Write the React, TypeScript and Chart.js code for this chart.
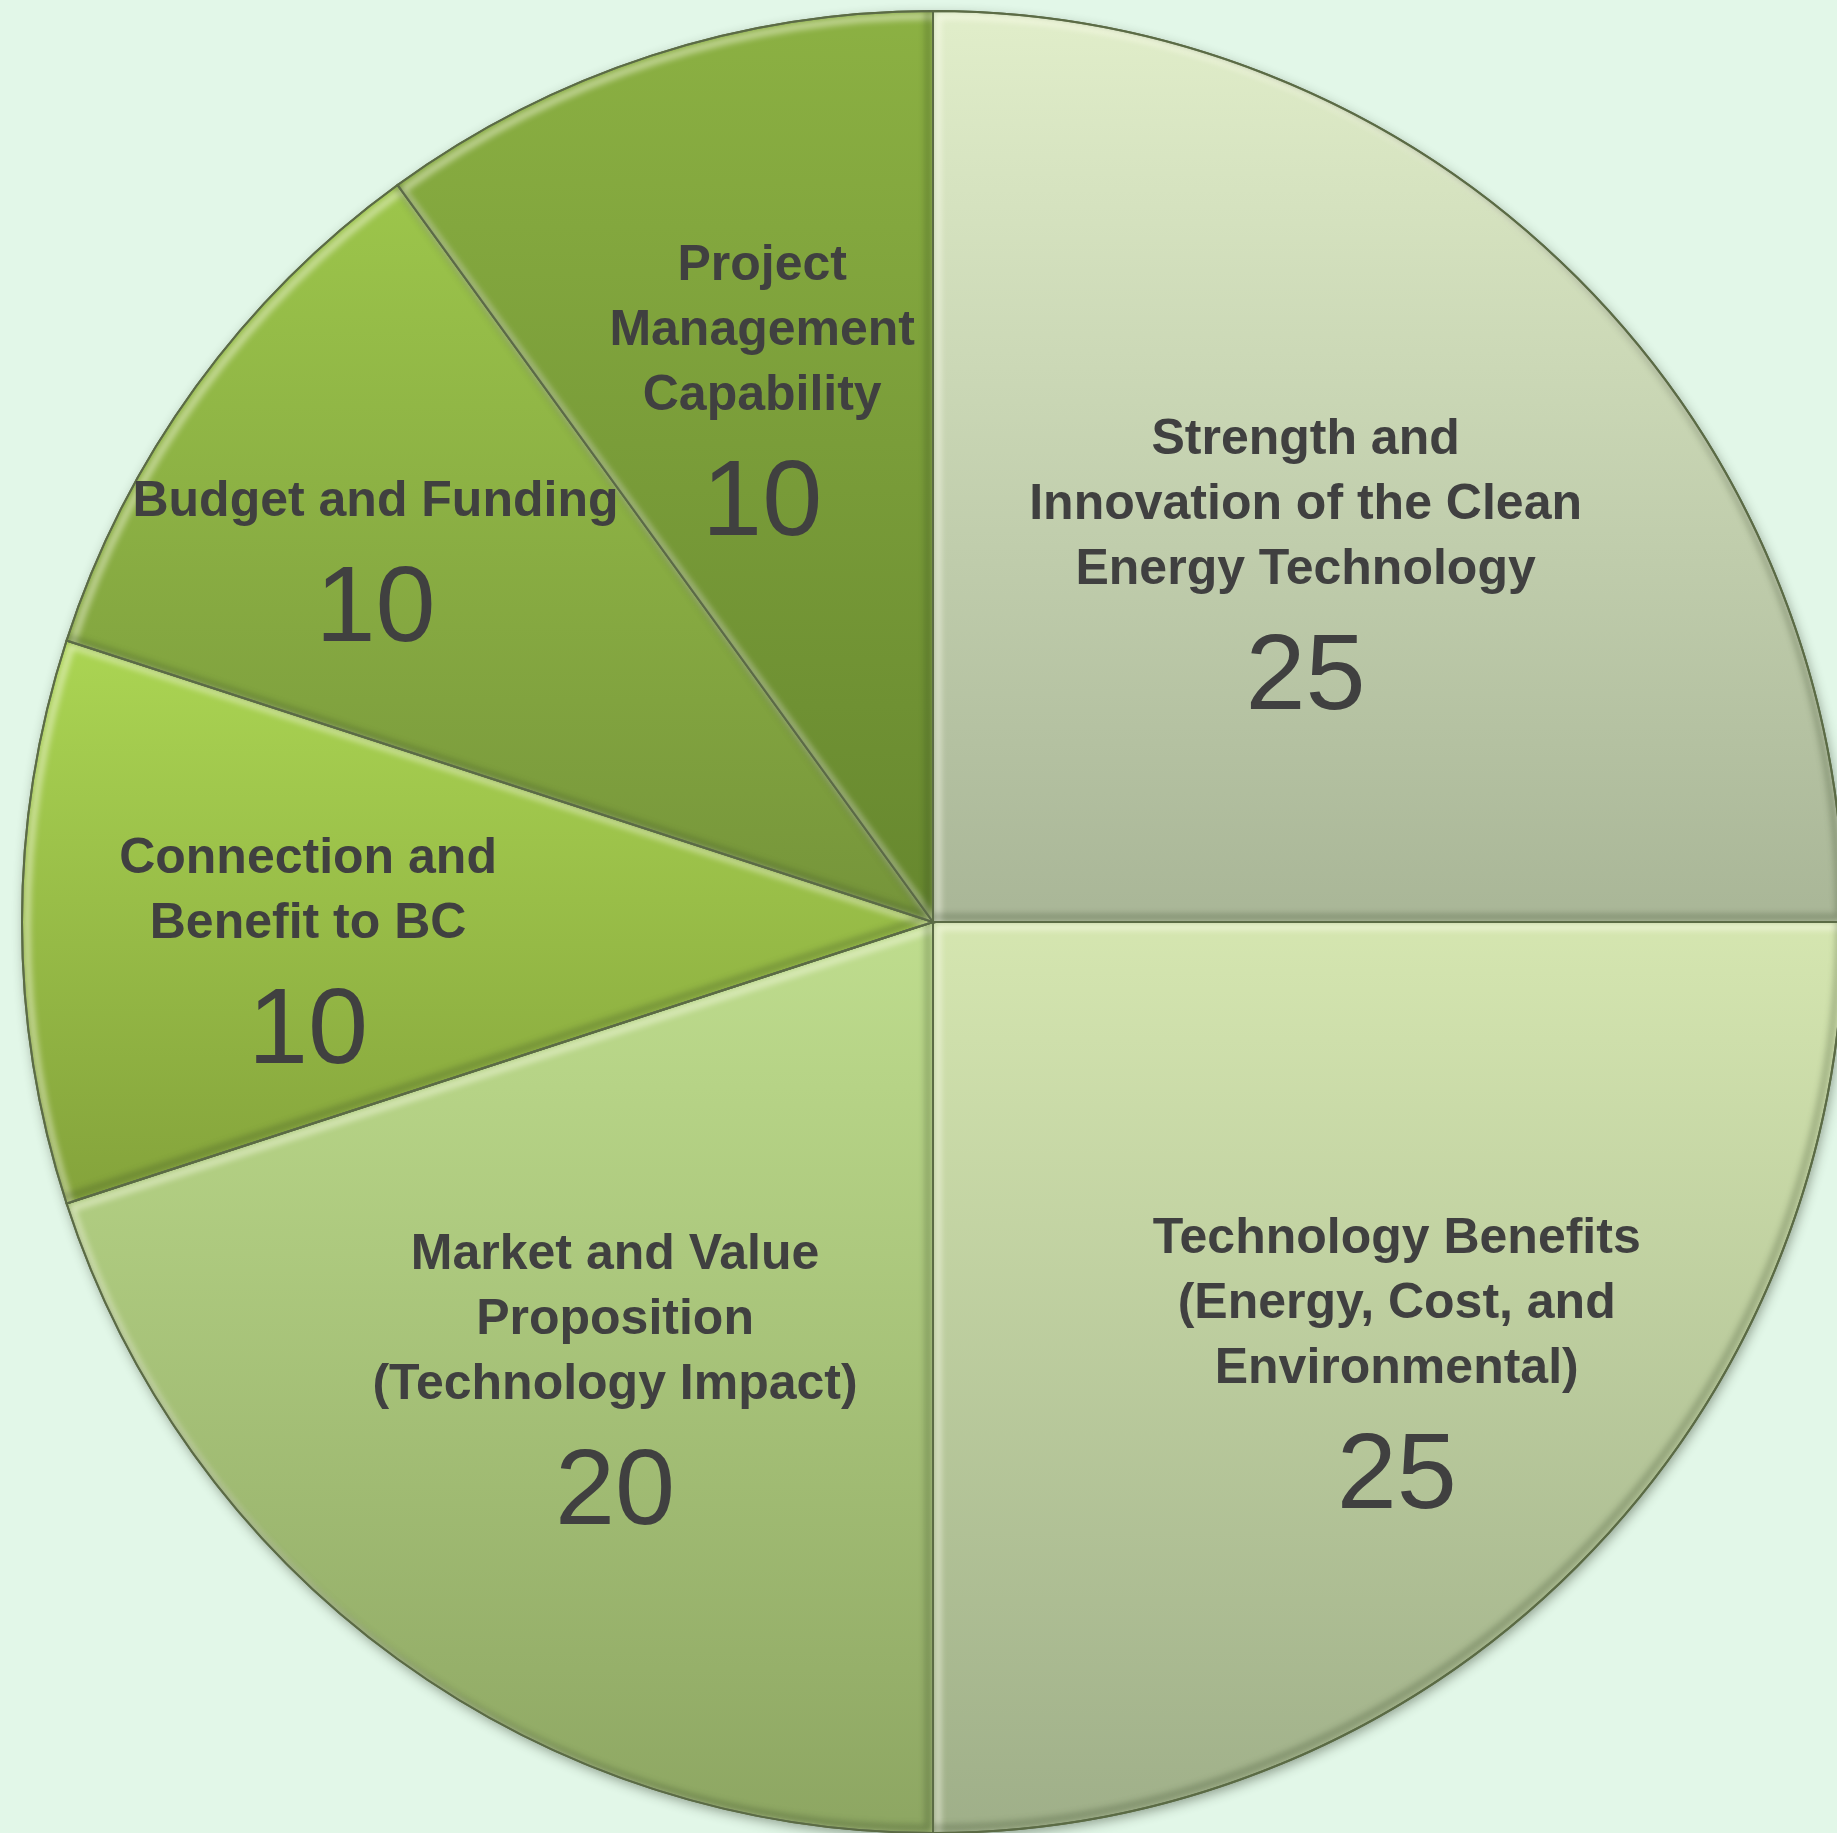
import React, { useEffect, useRef } from 'react';
import { Chart, registerables } from 'chart.js';

Chart.register(...registerables);

// ---- Data ----
const categories: string[][] = [
  ['Strength and', 'Innovation of the Clean', 'Energy Technology'],
  ['Technology Benefits', '(Energy, Cost, and', 'Environmental)'],
  ['Market and Value', 'Proposition', '(Technology Impact)'],
  ['Connection and', 'Benefit to BC'],
  ['Budget and Funding'],
  ['Project', 'Management', 'Capability'],
];
const scores: number[] = [25, 25, 20, 10, 10, 10];

// ---- Styles ----
const gradientTop = ['#E1EECA', '#D5E6B0', '#BFDD8E', '#ABD553', '#9DC64B', '#8CB143'];
const gradientBottom = ['#A9B697', '#9FAF89', '#8DA662', '#84A33B', '#75943A', '#66872E'];
// label anchor (centre of first text line) as fraction of radius from pie centre
const labelAnchors: number[][] = [
  [0.409, -0.533],
  [0.509, 0.344],
  [-0.349, 0.361],
  [-0.686, -0.073],
  [-0.612, -0.465],
  [-0.1875, -0.725],
];
const BG = '#E2F7E8';
const TEXT = '#404040';
const LABEL_FONT = 'bold 50px "Liberation Sans", Arial, sans-serif';
const VALUE_FONT = '108px "Liberation Sans", Arial, sans-serif';
const LINE_H = 65;
const VALUE_GAP = 104;

const CANVAS_W = 1866;
const CANVAS_H = 1844;

function sliceYRange(cy: number, r: number, a0: number, a1: number) {
  let minY = cy, maxY = cy;
  const steps = 60;
  for (let i = 0; i <= steps; i++) {
    const a = a0 + ((a1 - a0) * i) / steps;
    const y = cy + Math.sin(a) * r;
    if (y < minY) minY = y;
    if (y > maxY) maxY = y;
  }
  return [minY, maxY];
}

function arcPath(ctx: CanvasRenderingContext2D, x: number, y: number, r: number, a0: number, a1: number) {
  ctx.beginPath();
  ctx.moveTo(x, y);
  ctx.arc(x, y, r, a0, a1);
  ctx.closePath();
}

const shadowPlugin = {
  id: 'pieShadow',
  beforeDatasetsDraw(chart: any) {
    const meta = chart.getDatasetMeta(0);
    const arc = meta.data[0];
    if (!arc) return;
    const { x, y, outerRadius } = arc.getProps(['x', 'y', 'outerRadius'], true);
    const ctx = chart.ctx as CanvasRenderingContext2D;
    ctx.save();
    ctx.beginPath();
    ctx.arc(x, y, outerRadius, 0, Math.PI * 2);
    ctx.fillStyle = '#8a9a70';
    ctx.shadowColor = 'rgba(40,50,30,0.45)';
    ctx.shadowBlur = 12;
    ctx.shadowOffsetX = 2;
    ctx.shadowOffsetY = 4;
    ctx.fill();
    ctx.restore();
  },
};

const bevelLabelPlugin = {
  id: 'bevelLabels',
  afterDatasetsDraw(chart: any) {
    const meta = chart.getDatasetMeta(0);
    const ctx = chart.ctx as CanvasRenderingContext2D;
    // bevel
    meta.data.forEach((arc: any) => {
      const { x, y, startAngle, endAngle, outerRadius } = arc.getProps(
        ['x', 'y', 'startAngle', 'endAngle', 'outerRadius'],
        true
      );
      ctx.save();
      arcPath(ctx, x, y, outerRadius, startAngle, endAngle);
      ctx.clip();
      ctx.filter = 'blur(3px)';
      ctx.lineJoin = 'round';
      ctx.save();
      ctx.translate(5, 5);
      arcPath(ctx, x, y, outerRadius, startAngle, endAngle);
      ctx.strokeStyle = 'rgba(255,255,240,0.55)';
      ctx.lineWidth = 6;
      ctx.stroke();
      ctx.restore();
      ctx.save();
      ctx.translate(-5, -5);
      arcPath(ctx, x, y, outerRadius, startAngle, endAngle);
      ctx.strokeStyle = 'rgba(40,55,25,0.30)';
      ctx.lineWidth = 6;
      ctx.stroke();
      ctx.restore();
      ctx.restore();
      // crisp edge
      ctx.save();
      arcPath(ctx, x, y, outerRadius, startAngle, endAngle);
      ctx.strokeStyle = '#5b6b45';
      ctx.lineWidth = 2;
      ctx.stroke();
      ctx.restore();
    });
    // labels
    meta.data.forEach((arc: any, i: number) => {
      const { x, y, outerRadius } = arc.getProps(['x', 'y', 'outerRadius'], true);
      const [fx, fy] = labelAnchors[i];
      const cx = x + fx * outerRadius;
      const cy = y + fy * outerRadius;
      const lines = categories[i];
      ctx.save();
      ctx.fillStyle = TEXT;
      ctx.textAlign = 'center';
      ctx.textBaseline = 'alphabetic';
      ctx.font = LABEL_FONT;
      lines.forEach((ln, k) => {
        ctx.fillText(ln, cx, cy + 18 + k * LINE_H);
      });
      ctx.font = VALUE_FONT;
      const lastCenter = cy + (lines.length - 1) * LINE_H;
      ctx.fillText(String(scores[i]), cx, lastCenter + VALUE_GAP + 39);
      ctx.restore();
    });
  },
};

export default function App() {
  const ref = useRef<HTMLCanvasElement | null>(null);
  useEffect(() => {
    if (!ref.current) return;
    const total = scores.reduce((a, b) => a + b, 0);
    const chart = new Chart(ref.current, {
      type: 'pie',
      data: {
        labels: categories.map((c) => c.join(' ')),
        datasets: [
          {
            data: scores,
            borderColor: '#5b6b45',
            borderWidth: 2,
            backgroundColor: (c: any) => {
              const ch = c.chart;
              const area = ch.chartArea;
              const i = c.dataIndex;
              if (!area || i === undefined) return gradientTop[i ?? 0];
              const cx = (area.left + area.right) / 2;
              const cy = (area.top + area.bottom) / 2;
              const r = Math.min(area.right - area.left, area.bottom - area.top) / 2;
              let before = 0;
              for (let k = 0; k < i; k++) before += scores[k];
              const a0 = -Math.PI / 2 + (before / total) * Math.PI * 2;
              const a1 = a0 + (scores[i] / total) * Math.PI * 2;
              const [y0, y1] = sliceYRange(cy, r, a0, a1);
              const g = ch.ctx.createLinearGradient(0, y0, 0, y1);
              g.addColorStop(0, gradientTop[i]);
              g.addColorStop(1, gradientBottom[i]);
              return g;
            },
          },
        ],
      },
      options: {
        responsive: false,
        maintainAspectRatio: false,
        animation: false,
        layout: { padding: { left: 21, right: 21, top: 10, bottom: 10 } },
        plugins: {
          legend: { display: false },
          tooltip: { enabled: false },
        },
      },
      plugins: [shadowPlugin, bevelLabelPlugin],
    } as any);
    return () => chart.destroy();
  }, []);
  return (
    <div
      style={{
        position: 'absolute',
        left: 0,
        top: 0,
        width: 1837,
        height: 1833,
        overflow: 'hidden',
        background: BG,
      }}
    >
      <canvas
        ref={ref}
        width={CANVAS_W}
        height={CANVAS_H}
        style={{ display: 'block', width: CANVAS_W, height: CANVAS_H }}
      />
    </div>
  );
}
